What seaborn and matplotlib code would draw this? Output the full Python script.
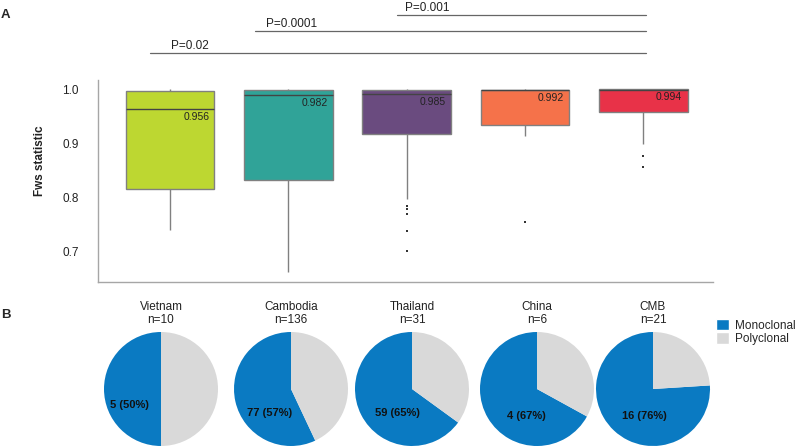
import pandas as pd
import matplotlib.pyplot as plt
import seaborn as sns
from matplotlib.patches import Patch

# Panel A: box summaries
countries = ['Vietnam', 'Cambodia', 'Thailand', 'China', 'CMB']
whis_low = [0.739, 0.662, 0.797, 0.913, 0.899]
q1 = [0.815, 0.831, 0.917, 0.934, 0.958]
median = [0.963, 0.989, 0.991, 0.998, 0.999]
q3 = [0.997, 0.998, 0.998, 0.999, 1.001]
whis_high = [1.000, 1.000, 1.000, 1.000, 1.001]
median_labels = ['0.956', '0.982', '0.985', '0.992', '0.994']
outliers = {
    'Thailand': [0.783, 0.779, 0.769, 0.738, 0.701],
    'China': [0.755],
    'CMB': [0.877, 0.856],
}
box_colors = ['#bdd731', '#30a398', '#6a4b7f', '#f5724a', '#e83248']

p_labels = ['P=0.02', 'P=0.0001', 'P=0.001']
p_start = [-0.17, 0.72, 1.92]
p_end = [4.02, 4.02, 4.02]
p_text_x = [0.17, 1.03, 2.17]
p_level = [1.067, 1.108, 1.138]

# Panel B: clonality
n_total = [10, 136, 31, 6, 21]
n_mono = [5, 77, 59, 4, 16]
pct_mono = [50, 57, 65, 67, 76]
pie_colors = ['#0a7ac2', '#d9d9d9']

# layout for panel B (pixels / radius units)
pie_cx = [161, 291, 412, 537, 653]
label_off = [(-0.56, -0.28), (-0.37, -0.42), (-0.25, -0.42), (-0.18, -0.47), (-0.16, -0.47)]

sns.set_theme(style='white')
plt.rcParams['font.family'] = ['Liberation Sans', 'DejaVu Sans']

W, H = 795, 447
fig = plt.figure(figsize=(W / 100, H / 100), dpi=100)

# ---- panel A ----
ax = fig.add_axes([98 / W, 1 - 282 / H, 615 / W, 202 / H])
rows = []
for i, c in enumerate(countries):
    for v in [whis_low[i], q1[i], median[i], q3[i], whis_high[i]]:
        rows.append({'country': c, 'fws': v})
df = pd.DataFrame(rows)

sns.boxplot(data=df, x='country', y='fws', hue='country', order=countries,
            palette=box_colors, saturation=1, legend=False, whis=(0, 100), width=0.75,
            linecolor='#808080', linewidth=1, fliersize=0, showcaps=False,
            medianprops={'color': '#444444', 'linewidth': 1}, ax=ax)

fl = pd.DataFrame([{'country': c, 'fws': v} for c, vals in outliers.items() for v in vals])
sns.stripplot(data=fl, x='country', y='fws', order=countries, jitter=False,
              color='#333333', marker='s', size=1.6, linewidth=0, ax=ax)

for i, lab in enumerate(median_labels):
    ax.text(i + 0.33, median[i] - 0.014, lab, ha='right', va='center',
            fontsize=7.5, color='#222222')

for lab, x0, x1, xt, y in zip(p_labels, p_start, p_end, p_text_x, p_level):
    ax.plot([x0, x1], [y, y], color='#666666', lw=0.9, clip_on=False)
    ax.text(xt, y + 0.002, lab, ha='center', va='bottom', fontsize=8.5,
            color='#222222', clip_on=False)

ax.set_xlim(-0.61, 4.59)
ax.set_ylim(0.643, 1.017)
ax.set_yticks([0.7, 0.8, 0.9, 1.0])
ax.set_yticklabels(['0.7', '0.8', '0.9', '1.0'])
ax.tick_params(axis='y', length=0, pad=14, labelsize=8.5, labelcolor='#222222')
ax.tick_params(axis='x', length=0, labelbottom=False)
ax.set_xlabel('')
ax.set_ylabel('Fws statistic', fontsize=8.5, fontweight='bold', color='#222222')
ax.yaxis.set_label_coords(-0.084, 0.6)
for s in ['top', 'right']:
    ax.spines[s].set_visible(False)
for s in ['left', 'bottom']:
    ax.spines[s].set_color('#a6a6a6')
    ax.spines[s].set_linewidth(1)

# ---- panel B ----
r = 57
for i, c in enumerate(countries):
    pax = fig.add_axes([(pie_cx[i] - r) / W, 1 / H, 2 * r / W, 2 * r / H])
    pax.pie([pct_mono[i], 100 - pct_mono[i]], colors=pie_colors,
            startangle=90, counterclock=True, wedgeprops={'linewidth': 0})
    pax.set_xlim(-1, 1)
    pax.set_ylim(-1, 1)
    pax.set_aspect('equal')
    pax.axis('off')
    pax.text(0, 1.1, f'{c}\nn={n_total[i]}', ha='center', va='bottom',
             fontsize=8.5, linespacing=1.15, color='#222222', clip_on=False)
    dx, dy = label_off[i]
    pax.text(dx, dy, f'{n_mono[i]} ({pct_mono[i]}%)', ha='center', va='center',
             fontsize=8, fontweight='bold', color='#111111')

handles = [Patch(facecolor=pie_colors[0]), Patch(facecolor=pie_colors[1])]
fig.legend(handles, ['Monoclonal', 'Polyclonal'], loc='upper left',
           bbox_to_anchor=(716 / W, 1 - 319 / H), frameon=False, fontsize=8.5,
           handlelength=1.1, handleheight=1.1, handletextpad=0.5,
           labelspacing=0.05, borderpad=0, borderaxespad=0)

fig.text(1 / W, 1 - 15 / H, 'A', fontsize=9.5, fontweight='bold', va='center')
fig.text(1 / W, 1 - 315 / H, 'B', fontsize=9.5, fontweight='bold', va='center')

fig.savefig('out.png', dpi=100)
